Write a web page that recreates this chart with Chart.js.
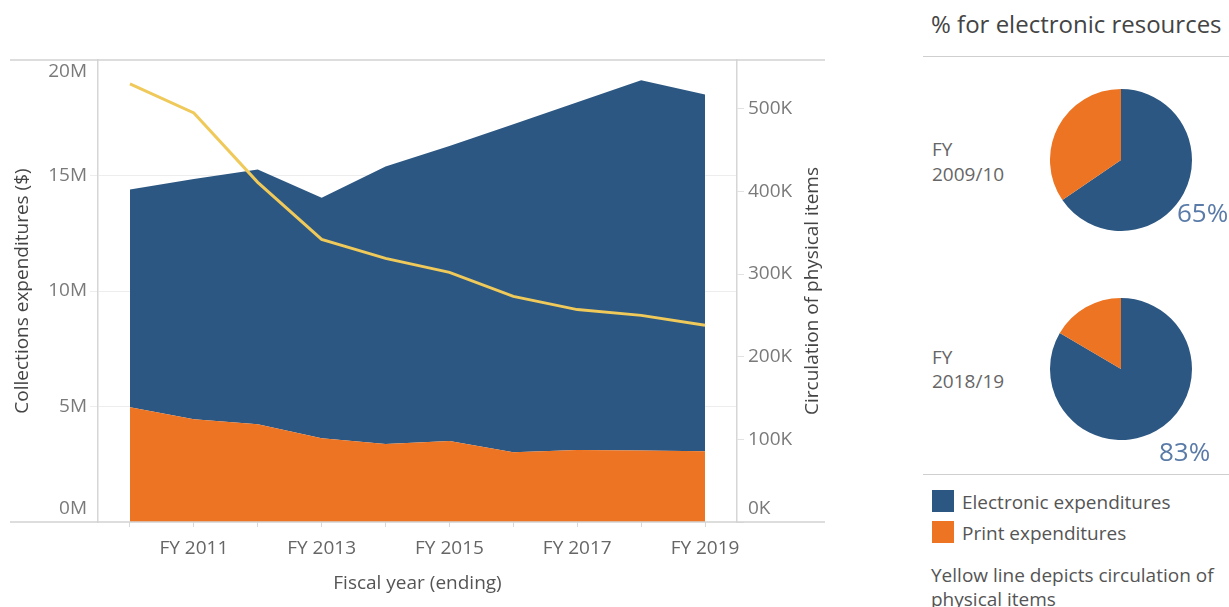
<!DOCTYPE html>
<html>
<head>
<meta charset="utf-8">
<script src="https://cdn.jsdelivr.net/npm/chart.js@4.4.1/dist/chart.umd.min.js"></script>
<style>
  html, body { margin: 0; padding: 0; background: #fff; }
  #wrap { position: relative; width: 1229px; height: 607px; overflow: hidden; font-family: "Open Sans", sans-serif; }
  #main { position: absolute; left: 0; top: 0; }
  .pie { position: absolute; }
  .txt { position: absolute; white-space: nowrap; }
  .rule { position: absolute; left: 923px; width: 306px; height: 0; border-top: 1.5px solid #cfcfcf; }
  .sw { position: absolute; width: 22px; height: 22px; }
</style>
</head>
<body>
<div id="wrap">
  <canvas id="main" width="830" height="607"></canvas>

  <div class="txt" id="panelTitle" style="left:931px; top:9px; font-size:24px; line-height:30px; color:#444;"></div>
  <div class="rule" style="top:56px;"></div>

  <div class="txt" id="pieLabel1" style="left:932px; top:137px; font-size:19px; line-height:25px; color:#666; white-space:pre;"></div>
  <canvas class="pie" id="pie1" width="142" height="142" style="left:1050px; top:89px;"></canvas>
  <div class="txt" id="pct1" style="left:1177px; top:195px; font-size:26px; line-height:34px; color:#5a7ba8;"></div>

  <div class="txt" id="pieLabel2" style="left:932px; top:345px; font-size:19px; line-height:24px; color:#666; white-space:pre;"></div>
  <canvas class="pie" id="pie2" width="142" height="142" style="left:1050px; top:298px;"></canvas>
  <div class="txt" id="pct2" style="left:1159px; top:434px; font-size:26px; line-height:34px; color:#5a7ba8;"></div>

  <div class="rule" style="top:474px;"></div>

  <div class="sw" id="sw1" style="left:932px; top:490px;"></div>
  <div class="txt" id="lg1" style="left:962px; top:489px; font-size:19px; line-height:26px; color:#555;"></div>
  <div class="sw" id="sw2" style="left:932px; top:521px;"></div>
  <div class="txt" id="lg2" style="left:962px; top:520px; font-size:19px; line-height:26px; color:#555;"></div>

  <div class="txt" id="note" style="left:931px; top:563px; font-size:19px; line-height:24px; color:#555; white-space:normal; width:300px;"></div>
</div>

<script>
// ---------------- Data ----------------
const categories = ['FY 2010','FY 2011','FY 2012','FY 2013','FY 2014','FY 2015','FY 2016','FY 2017','FY 2018','FY 2019'];
// Collections expenditures, millions of dollars
const printExpenditures      = [4.97, 4.45, 4.23, 3.63, 3.38, 3.51, 3.02, 3.12, 3.09, 3.06];
const electronicExpenditures = [9.42, 10.40, 11.03, 10.41, 12.01, 12.77, 14.20, 15.05, 16.03, 15.45];
// Circulation of physical items, thousands
const circulation = [530, 495, 411, 342, 319, 302, 273, 257, 250, 238];

const seriesNames = ['Electronic expenditures', 'Print expenditures'];
const pieYearLabels = ['FY\n2009/10', 'FY\n2018/19'];
const panelTitle = '% for electronic resources';
const noteText = 'Yellow line depicts circulation of physical items';
const axisTitles = { left: 'Collections expenditures ($)', right: 'Circulation of physical items', x: 'Fiscal year (ending)' };

// ---------------- Styles ----------------
const BLUE = '#2c5782';
const ORANGE = '#ec7422';
const YELLOW = '#efc95a';
const FONT = '"Open Sans", sans-serif';
const TICK_COLOR = '#7a7a7a';

// ---------------- Plugins ----------------
const framePlugin = {
  id: 'frame',
  afterDraw(chart) {
    const ctx = chart.ctx;
    const { top, bottom } = chart.chartArea;
    ctx.save();
    // top & bottom rules
    ctx.strokeStyle = '#d2d2d2';
    ctx.lineWidth = 1.5;
    ctx.beginPath();
    ctx.moveTo(10, top); ctx.lineTo(chart.width - 5, top);
    ctx.moveTo(10, bottom); ctx.lineTo(chart.width - 5, bottom);
    ctx.stroke();

    // y tick labels (kept inside plot extent)
    ctx.font = '19px ' + FONT;
    ctx.fillStyle = TICK_COLOR;
    ctx.textBaseline = 'middle';
    const clamp = (p) => Math.min(Math.max(p, top + 12), bottom - 13);
    const y = chart.scales.y;
    ctx.textAlign = 'right';
    y.ticks.forEach(t => {
      ctx.fillText(t.label, y.right - 11, clamp(y.getPixelForValue(t.value)));
    });
    const y1 = chart.scales.y1;
    ctx.textAlign = 'left';
    y1.ticks.forEach(t => {
      ctx.fillText(t.label, y1.left + 11, clamp(y1.getPixelForValue(t.value)));
    });

    // right axis title (reads bottom-to-top)
    ctx.fillStyle = '#444';
    ctx.textAlign = 'center';
    ctx.translate(y1.right - 12, (top + bottom) / 2);
    ctx.rotate(-Math.PI / 2);
    ctx.fillText(axisTitles.right, 0, 0);
    ctx.restore();
  }
};

// ---------------- Main chart ----------------
new Chart(document.getElementById('main'), {
  type: 'line',
  data: {
    labels: categories,
    datasets: [
      {
        label: 'Circulation',
        data: circulation,
        yAxisID: 'y1',
        borderColor: YELLOW,
        borderWidth: 3,
        pointRadius: 0,
        fill: false,
        tension: 0
      },
      {
        label: seriesNames[1],
        data: printExpenditures,
        yAxisID: 'y',
        backgroundColor: ORANGE,
        borderWidth: 0,
        pointRadius: 0,
        fill: 'origin',
        tension: 0
      },
      {
        label: seriesNames[0],
        data: electronicExpenditures,
        yAxisID: 'y',
        backgroundColor: BLUE,
        borderWidth: 0,
        pointRadius: 0,
        fill: '-1',
        tension: 0
      }
    ]
  },
  options: {
    responsive: false,
    animation: false,
    devicePixelRatio: 1,
    layout: { padding: { left: 10, right: 5, top: 60, bottom: 0 } },
    plugins: { legend: { display: false }, tooltip: { enabled: false } },
    scales: {
      x: {
        type: 'category',
        offset: true,
        afterFit: (s) => { s.height = 85; },
        grid: { drawOnChartArea: false, drawTicks: true, tickLength: 5, color: '#d8d8d8' },
        border: { display: false },
        ticks: {
          autoSkip: false, maxRotation: 0, padding: 10,
          color: '#666', font: { family: FONT, size: 19 },
          callback: (v, i) => (i % 2 === 1 ? categories[i] : '')
        },
        title: {
          display: true, text: axisTitles.x, color: '#555',
          font: { family: FONT, size: 19 }, padding: { top: 4, bottom: 12 }
        }
      },
      y: {
        position: 'left',
        stacked: true,
        min: 0, max: 20,
        afterFit: (s) => { s.width = 88; },
        grid: {
          color: (c) => (c.tick && (c.tick.value === 0 || c.tick.value === 20)) ? 'rgba(0,0,0,0)' : '#ededed',
          tickLength: 8
        },
        border: { display: true, color: '#d6d6d6', width: 1.5 },
        ticks: {
          stepSize: 5, padding: 3,
          color: 'rgba(0,0,0,0)', font: { family: FONT, size: 19 },
          callback: (v) => v + 'M'
        },
        title: {
          display: true, text: axisTitles.left, color: '#444',
          font: { family: FONT, size: 19 }, padding: { top: 1, bottom: 0 }
        }
      },
      y1: {
        position: 'right',
        min: 0, max: 559,
        afterFit: (s) => { s.width = 88; },
        afterBuildTicks: (s) => { s.ticks = s.ticks.filter(t => t.value % 100 === 0); },
        grid: { drawOnChartArea: false, tickLength: 7, color: '#e2e2e2' },
        border: { display: true, color: '#d6d6d6', width: 1.5 },
        ticks: {
          stepSize: 100, padding: 3,
          color: 'rgba(0,0,0,0)', font: { family: FONT, size: 19 },
          callback: (v) => v + 'K'
        }
      }
    }
  },
  plugins: [framePlugin]
});

// ---------------- Pies ----------------
function makePie(id, idx) {
  const e = electronicExpenditures[idx], p = printExpenditures[idx];
  new Chart(document.getElementById(id), {
    type: 'pie',
    data: {
      labels: seriesNames,
      datasets: [{ data: [e, p], backgroundColor: [BLUE, ORANGE], borderWidth: 0 }]
    },
    options: {
      responsive: false, animation: false, devicePixelRatio: 1,
      layout: { padding: 0 },
      plugins: { legend: { display: false }, tooltip: { enabled: false } }
    }
  });
  return Math.round(e / (e + p) * 100) + '%';
}
const last = categories.length - 1;
document.getElementById('pct1').textContent = makePie('pie1', 0);
document.getElementById('pct2').textContent = makePie('pie2', last);

document.getElementById('panelTitle').textContent = panelTitle;
document.getElementById('pieLabel1').textContent = pieYearLabels[0];
document.getElementById('pieLabel2').textContent = pieYearLabels[1];
document.getElementById('sw1').style.background = BLUE;
document.getElementById('sw2').style.background = ORANGE;
document.getElementById('lg1').textContent = seriesNames[0];
document.getElementById('lg2').textContent = seriesNames[1];
document.getElementById('note').textContent = noteText;
</script>
</body>
</html>
